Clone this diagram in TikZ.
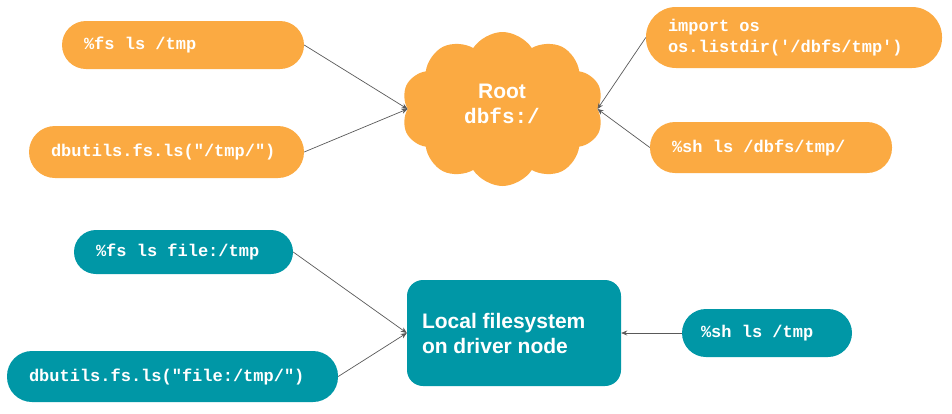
\documentclass[tikz,border=0pt]{standalone}
\usepackage{fontspec}
\setmainfont{Liberation Sans}
\newfontfamily\codefont{Liberation Mono}
\usetikzlibrary{arrows.meta,shapes.symbols}
\definecolor{dbfsorange}{RGB}{251,170,66}
\definecolor{localteal}{RGB}{0,151,166}
\definecolor{arrowgrey}{RGB}{89,89,89}
\begin{document}
\begin{tikzpicture}[x=1pt,y=-1pt,
    pill/.style={rectangle, text=white, font=\codefont\bfseries\fontsize{17}{21}\selectfont,
                 inner xsep=22pt, inner ysep=0pt, align=flush left},
    orangepill/.style={pill, fill=dbfsorange},
    tealpill/.style={pill, fill=localteal},
    link/.style={draw=arrowgrey, line width=0.7pt, -{Stealth[length=6pt,width=5pt]}}]
                    \useasboundingbox (0,0) rectangle (952,413);
                    % dbfs root
                    \node[cloud, cloud puffs=10, cloud puff arc=115, aspect=1.3, fill=dbfsorange,
                          minimum width=202pt, minimum height=154pt, inner sep=0pt] (root) at (502.5,109) {};
                    \node[text=white, align=center, font=\bfseries\fontsize{21}{25}\selectfont] (roottext) at (502,104)
                          {Root\\{\codefont dbfs:/}};
                    \node[orangepill, minimum height=48pt, text width=198pt, rounded corners=24pt] (fsls) at (183,45) {\%fs ls /tmp};
                    \node[orangepill, minimum height=52pt, text width=231pt, rounded corners=26pt] (dbutils) at (166.5,152) {dbutils.fs.ls("/tmp/")};
                    \node[orangepill, minimum height=61pt, text width=252pt, rounded corners=30pt] (pyos) at (794,37.5) {import os\\os.listdir('/dbfs/tmp')};
                    \node[orangepill, minimum height=51pt, text width=198pt, rounded corners=25pt] (shls) at (771,147.5) {\%sh ls /dbfs/tmp/};
                    % driver local disk
                    \node[rectangle, fill=localteal, rounded corners=16pt, text=white, align=flush left,
                          font=\bfseries\fontsize{21}{25}\selectfont, inner xsep=15pt,
                          minimum height=106pt, text width=184pt] (localfs) at (514,333) {Local filesystem\\on driver node};
                    \node[tealpill, minimum height=44pt, text width=175pt, rounded corners=22pt] (fsfile) at (183.5,252) {\%fs ls file:/tmp};
                    \node[tealpill, minimum height=51pt, text width=287pt, rounded corners=25pt] (dbutilsfile) at (172.5,376.5) {dbutils.fs.ls("file:/tmp/")};
                    \node[tealpill, minimum height=48pt, text width=132pt, inner xsep=19pt, rounded corners=24pt] (shtmp) at (767,333) {\%sh ls /tmp};
                    \draw[link] (fsls.east) -- (root.west);
                    \draw[link] (dbutils.east) -- (root.west);
                    \draw[link] (pyos.west) -- (root.east);
                    \draw[link] (shls.west) -- (root.east);
                    \draw[link] (fsfile.east) -- (localfs.west);
                    \draw[link] (dbutilsfile.east) -- (localfs.west);
                    \draw[link] (shtmp.west) -- (localfs.east);
                \end{tikzpicture}
\end{document}
